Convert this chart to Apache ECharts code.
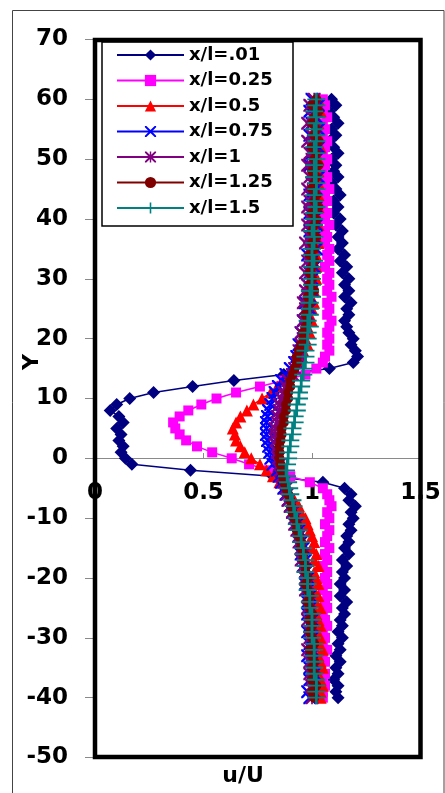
<!DOCTYPE html>
<html>
<head>
<meta charset="utf-8">
<script src="https://cdn.jsdelivr.net/npm/echarts@6/dist/echarts.min.js"></script>
<style>
html,body{margin:0;padding:0;background:#fff;}
#c{width:445px;height:793px;}
</style>
</head>
<body>
<div id="c"></div>
<script>
// Y positions (shared by all profiles)
const yPos = [60,59,58,57,56,55,54,53,52,51,
  50,49,48,47,46,45,44,43,42,41,
  40,39,38,37,36,35,34,33,32,31,
  30,29,28,27,26,25,24,23,22,21,
  20,19,18,17,16,15,14,13,12,11,
  10,9,8,7,6,5,4,3,2,1,
  0,-1,-2,-3,-4,-5,-6,-7,-8,-9,
  -10,-11,-12,-13,-14,-15,-16,-17,-18,-19,
  -20,-21,-22,-23,-24,-25,-26,-27,-28,-29,
  -30,-31,-32,-33,-34,-35,-36,-37,-38,-39,
  -40];

const seriesNames = ['x/l=.01','x/l=0.25','x/l=0.5','x/l=0.75','x/l=1','x/l=1.25','x/l=1.5'];

const u001 = [1.09,1.11,1.08,1.10,1.12,1.09,1.11,1.08,1.10,1.12,
  1.09,1.11,1.10,1.12,1.09,1.11,1.13,1.10,1.12,1.10,
  1.13,1.11,1.14,1.12,1.14,1.12,1.15,1.13,1.16,1.14,
  1.17,1.15,1.17,1.15,1.18,1.16,1.17,1.15,1.16,1.17,
  1.19,1.18,1.20,1.21,1.19,1.08,0.87,0.64,0.45,0.27,
  0.16,0.10,0.07,0.11,0.13,0.10,0.12,0.11,0.13,0.12,
  0.14,0.17,0.44,0.82,1.05,1.15,1.18,1.17,1.20,1.18,
  1.19,1.17,1.18,1.16,1.17,1.15,1.17,1.14,1.16,1.14,
  1.15,1.13,1.15,1.13,1.16,1.14,1.15,1.13,1.14,1.12,
  1.14,1.12,1.13,1.11,1.13,1.11,1.12,1.10,1.12,1.11,
  1.12];

const u025 = [1.05,1.06,1.05,1.07,1.05,1.06,1.05,1.07,1.06,1.05,
  1.07,1.06,1.05,1.07,1.06,1.08,1.06,1.07,1.05,1.07,
  1.06,1.08,1.06,1.07,1.06,1.08,1.07,1.08,1.06,1.08,
  1.07,1.08,1.07,1.09,1.07,1.08,1.07,1.09,1.08,1.07,
  1.08,1.07,1.08,1.06,1.05,1.02,0.97,0.87,0.76,0.65,
  0.56,0.49,0.43,0.39,0.36,0.37,0.39,0.42,0.47,0.54,
  0.63,0.71,0.80,0.90,0.99,1.05,1.07,1.08,1.09,1.07,
  1.08,1.06,1.08,1.07,1.06,1.08,1.06,1.07,1.05,1.07,
  1.06,1.07,1.05,1.07,1.06,1.07,1.05,1.06,1.07,1.05,
  1.06,1.05,1.07,1.05,1.06,1.04,1.06,1.05,1.06,1.05,
  1.05];

const u050 = [1.03,1.02,1.04,1.02,1.03,1.01,1.03,1.02,1.04,1.02,
  1.03,1.01,1.03,1.02,1.03,1.01,1.03,1.02,1.03,1.01,
  1.02,1.03,1.01,1.02,1.03,1.01,1.02,1.00,1.02,1.01,
  1.02,1.00,1.01,0.99,1.01,1.00,0.99,1.00,0.98,0.99,
  0.97,0.98,0.96,0.95,0.94,0.92,0.90,0.87,0.84,0.81,
  0.77,0.73,0.70,0.67,0.65,0.635,0.645,0.65,0.67,0.69,
  0.72,0.76,0.79,0.82,0.85,0.88,0.90,0.92,0.94,0.95,
  0.97,0.98,0.99,1.00,1.01,1.00,1.02,1.01,1.03,1.01,
  1.02,1.03,1.01,1.03,1.02,1.04,1.02,1.03,1.04,1.02,
  1.04,1.03,1.05,1.03,1.04,1.05,1.03,1.04,1.05,1.04,
  1.04];

const u075 = [1.00,1.03,0.99,1.02,1.00,1.03,0.99,1.01,1.03,1.00,
  1.02,0.99,1.01,1.03,1.00,1.02,0.99,1.01,1.02,0.99,
  1.01,1.02,0.99,1.01,1.00,1.02,0.98,1.00,1.01,0.99,
  1.00,0.98,1.00,0.99,0.97,0.99,0.98,0.96,0.97,0.95,
  0.96,0.94,0.95,0.93,0.92,0.90,0.88,0.86,0.845,0.83,
  0.82,0.81,0.80,0.795,0.79,0.79,0.79,0.795,0.80,0.805,
  0.81,0.82,0.84,0.85,0.86,0.87,0.88,0.89,0.90,0.91,
  0.92,0.93,0.94,0.94,0.95,0.96,0.95,0.97,0.96,0.97,
  0.98,0.97,0.98,0.99,0.98,0.99,0.98,1.00,0.99,0.98,
  1.00,0.99,1.00,0.98,1.00,0.99,1.01,0.99,1.00,0.98,
  0.99];

const u100 = [1.01,0.99,1.02,1.00,0.98,1.01,1.00,0.98,1.01,0.99,
  1.00,0.98,1.01,0.99,1.00,0.98,1.01,0.99,0.98,1.00,
  0.99,0.98,1.00,0.99,0.97,0.99,1.00,0.98,0.99,0.97,
  0.99,0.98,0.97,0.98,0.96,0.97,0.98,0.96,0.97,0.95,
  0.96,0.95,0.94,0.95,0.93,0.92,0.91,0.89,0.88,0.87,
  0.86,0.85,0.85,0.84,0.84,0.83,0.83,0.835,0.84,0.84,
  0.845,0.85,0.855,0.86,0.87,0.88,0.885,0.89,0.90,0.91,
  0.92,0.92,0.93,0.94,0.94,0.95,0.96,0.95,0.96,0.97,
  0.97,0.98,0.97,0.98,0.99,0.98,0.99,0.98,1.00,0.99,
  0.99,1.00,0.98,1.00,0.99,1.01,0.99,1.00,1.00,1.01,
  1.00];

const u125 = [1.02,1.00,1.03,1.01,1.00,1.02,1.01,1.03,1.00,1.02,
  1.01,1.03,1.00,1.02,1.01,1.00,1.02,1.01,1.03,1.00,
  1.02,1.01,1.00,1.02,1.00,1.01,0.99,1.01,1.00,0.99,
  1.00,0.99,1.01,0.98,0.99,0.98,0.97,0.98,0.97,0.96,
  0.96,0.95,0.94,0.93,0.93,0.92,0.91,0.90,0.90,0.89,
  0.89,0.88,0.88,0.87,0.87,0.86,0.86,0.855,0.85,0.85,
  0.85,0.855,0.86,0.865,0.87,0.88,0.89,0.90,0.905,0.91,
  0.92,0.93,0.93,0.94,0.95,0.95,0.96,0.96,0.97,0.97,
  0.98,0.97,0.98,0.99,0.98,0.99,1.00,0.99,1.00,0.99,
  1.00,1.01,0.99,1.00,1.01,1.00,1.01,1.00,1.02,1.00,
  1.01];

const u150 = [1.02,1.02,1.01,1.02,1.02,1.01,1.02,1.02,1.01,1.02,
  1.02,1.01,1.02,1.01,1.02,1.02,1.01,1.01,1.02,1.01,
  1.01,1.01,1.00,1.01,1.01,1.00,1.00,1.01,1.00,1.00,
  1.00,1.00,0.99,1.00,0.99,0.99,0.99,0.98,0.99,0.98,
  0.98,0.98,0.97,0.97,0.97,0.96,0.96,0.95,0.95,0.94,
  0.94,0.93,0.93,0.92,0.92,0.91,0.91,0.90,0.90,0.89,
  0.89,0.885,0.88,0.885,0.89,0.895,0.90,0.91,0.915,0.92,
  0.93,0.93,0.94,0.95,0.95,0.96,0.96,0.97,0.97,0.97,
  0.98,0.98,0.98,0.99,0.99,0.99,1.00,1.00,1.00,1.00,
  1.00,1.01,1.01,1.01,1.01,1.01,1.01,1.02,1.02,1.02,
  1.02];

const xTicks = ['0','0.5','1','1.5'];
const yTicks = ['-50','-40','-30','-20','-10','0','10','20','30','40','50','60','70'];

const allU = [u001,u025,u050,u075,u100,u125,u150];
const colors = ['#000080','#FF00FF','#FF0000','#0000FF','#800080','#800000','#008080'];

const X_PATH = 'path://M0,0 L1.3,0 L5,3.7 L8.7,0 L10,0 L10,1.3 L6.3,5 L10,8.7 L10,10 L8.7,10 L5,6.3 L1.3,10 L0,10 L0,8.7 L3.7,5 L0,1.3 Z';
const STAR_PATH = 'path://M0,0 L1.3,0 L5,3.7 L8.7,0 L10,0 L10,1.3 L6.3,5 L10,8.7 L10,10 L8.7,10 L5,6.3 L1.3,10 L0,10 L0,8.7 L3.7,5 L0,1.3 Z M4.35,0 L5.65,0 L5.65,10 L4.35,10 Z';
const PLUS_PATH = 'path://M0,4.3 L4.3,4.3 L4.3,0 L5.7,0 L5.7,4.3 L10,4.3 L10,5.7 L5.7,5.7 L5.7,10 L4.3,10 L4.3,5.7 L0,5.7 Z';

const symbols = ['diamond','rect','triangle',X_PATH,STAR_PATH,'circle',PLUS_PATH];
const symSizes = [[13,13],10,12,13,13,10,[18,13]];

const FONT = '"DejaVu Sans", "Liberation Sans", Arial, sans-serif';

const chart = echarts.init(document.getElementById('c'), null, {renderer:'canvas'});

const series = allU.map((arr, k) => ({
  name: seriesNames[k],
  type: 'line',
  data: arr.map((u, i) => [u, yPos[i]]),
  symbol: symbols[k],
  symbolSize: symSizes[k],
  showAllSymbol: true,
  lineStyle: {color: colors[k], width: 1.5},
  itemStyle: {color: colors[k]},
  z: 2 + k,
  animation: false
}));

chart.setOption({
  animation: false,
  backgroundColor: '#ffffff',
  grid: {left: 95, top: 39.5, right: 24.5, bottom: 35.5, containLabel: false},
  xAxis: {
    type: 'value', min: 0, max: 1.5, interval: 0.5,
    position: 'bottom',
    offset: -299.5,
    axisLine: {show: true, onZero: false, lineStyle: {color: '#8a8a8a', width: 1}},
    axisTick: {show: true, inside: true, length: 5, lineStyle: {color: '#8a8a8a'}},
    axisLabel: {
      margin: 24, color: '#000', fontSize: 23, fontWeight: 'bold', fontFamily: FONT,
      formatter: v => xTicks[Math.round(v / 0.5)]
    },
    splitLine: {show: false}
  },
  yAxis: {
    type: 'value', min: -50, max: 70, interval: 10,
    axisLine: {show: false, onZero: false},
    axisTick: {show: true, inside: false, length: 10, lineStyle: {color: '#8a8a8a'}},
    axisLabel: {
      margin: 27, color: '#000', fontSize: 23, fontWeight: 'bold', fontFamily: FONT,
      formatter: v => yTicks[Math.round((v + 50) / 10)]
    },
    splitLine: {show: false}
  },
  legend: {
    data: seriesNames,
    orient: 'vertical',
    left: 116, top: 46,
    padding: 0,
    itemWidth: 67, itemHeight: 14, itemGap: 7.5,
    textStyle: {fontFamily: FONT, fontWeight: 'bold', fontSize: 18, color: '#000', lineHeight: 14},
    z: 20
  },
  graphic: [
    {type: 'rect', z: 0, silent: true,
     shape: {x: 12.5, y: 10.5, width: 431.5, height: 800},
     style: {fill: null, stroke: '#444', lineWidth: 1}},
    {type: 'rect', z: 15, silent: true,
     shape: {x: 102, y: 42, width: 191, height: 184},
     style: {fill: '#fff', stroke: '#000', lineWidth: 1.5}},
    {type: 'rect', z: 100, silent: true,
     shape: {x: 95, y: 40, width: 325.5, height: 717},
     style: {fill: null, stroke: '#000', lineWidth: 4.5}},
    {type: 'text', z: 100, x: 32, y: 362, rotation: Math.PI / 2,
     style: {text: 'Y', font: 'bold 22px ' + FONT, fill: '#000', textAlign: 'center', textVerticalAlign: 'middle'}},
    {type: 'text', z: 100, x: 243, y: 776,
     style: {text: 'u/U', font: 'bold 22px ' + FONT, fill: '#000', textAlign: 'center', textVerticalAlign: 'middle'}}
  ],
  series: series
});
</script>
</body>
</html>
